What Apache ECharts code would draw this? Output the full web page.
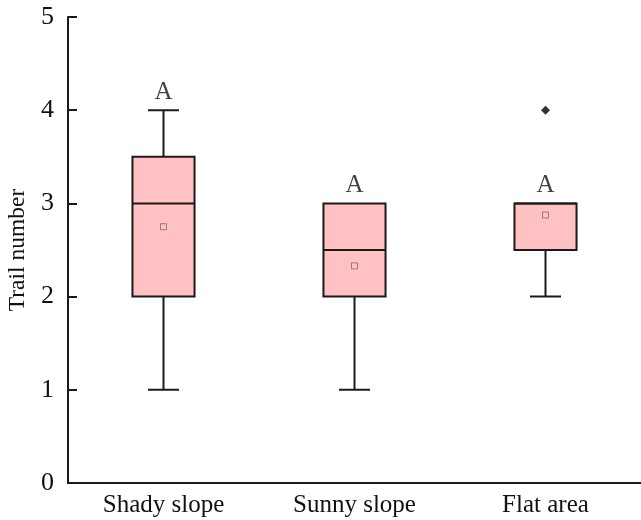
<!DOCTYPE html>
<html>
<head>
<meta charset="utf-8">
<script src="https://cdn.jsdelivr.net/npm/echarts@6/dist/echarts.min.js"></script>
<style>
html,body{margin:0;padding:0;background:#fff;}
#chart{width:641px;height:520px;}
</style>
</head>
<body>
<div id="chart"></div>
<script>
// 数据
var categories = ['Shady slope', 'Sunny slope', 'Flat area'];
// [min, Q1, median, Q3, max]
var boxData = [
	[1, 2, 3, 3.5, 4],
	[1, 2, 2.5, 3, 3],
	[2, 2.5, 3, 3, 3]
];
var meanData = [2.75, 2.33, 2.875];
var outlierData = [[2, 4]];
var groupLetters = ['A', 'A', 'A'];
var yTicks = [0, 1, 2, 3, 4, 5];

var FONT = '"Liberation Serif", "DejaVu Serif", serif';
var LINE = '#1a1a1a';

// 箱体 + 须线
function renderBox(params, api){
	var idx = api.value(0);
	var lo = api.coord([idx, api.value(1)]);
	var q1 = api.coord([idx, api.value(2)]);
	var med = api.coord([idx, api.value(3)]);
	var q3 = api.coord([idx, api.value(4)]);
	var hi = api.coord([idx, api.value(5)]);
	var band = api.size([1, 0])[0];
	var w = band * 0.325;
	var cw = w / 2;
	var x = lo[0];
	var lineStyle = {stroke: LINE, lineWidth: 2};
	var children = [
		{type: 'line', shape: {x1: x, y1: lo[1], x2: x, y2: q1[1]}, style: lineStyle},
		{type: 'line', shape: {x1: x, y1: q3[1], x2: x, y2: hi[1]}, style: lineStyle},
		{type: 'rect', shape: {x: x - w / 2, y: q3[1], width: w, height: q1[1] - q3[1]},
			style: {fill: '#ffc1c1', stroke: LINE, lineWidth: 2}},
		{type: 'line', shape: {x1: x - w / 2, y1: med[1], x2: x + w / 2, y2: med[1]}, style: lineStyle}
	];
	if (hi[1] < q3[1] - 0.5) {
		children.push({type: 'line', shape: {x1: x - cw / 2, y1: hi[1], x2: x + cw / 2, y2: hi[1]}, style: lineStyle});
	}
	if (lo[1] > q1[1] + 0.5) {
		children.push({type: 'line', shape: {x1: x - cw / 2, y1: lo[1], x2: x + cw / 2, y2: lo[1]}, style: lineStyle});
	}
	return {type: 'group', children: children};
}

var boxSeriesData = boxData.map(function(d, i){ return [i].concat(d); });
var meanSeriesData = meanData.map(function(v, i){ return [i, v]; });
var letterData = boxData.map(function(d, i){ return {value: [i, d[4]], label: {formatter: groupLetters[i]}}; });

var option = {
	animation: false,
	backgroundColor: '#fff',
	grid: {left: 68, right: 0, top: 17, bottom: 37, containLabel: false, outerBoundsMode: 'none'},
	xAxis: {
		type: 'category',
		data: categories,
		boundaryGap: true,
		axisLine: {lineStyle: {color: LINE, width: 2}},
		axisTick: {alignWithLabel: true, length: 9, lineStyle: {color: LINE, width: 2}},
		axisLabel: {color: '#111', fontFamily: FONT, fontSize: 25, margin: 10},
		splitLine: {show: false}
	},
	yAxis: {
		type: 'value',
		min: yTicks[0],
		max: yTicks[yTicks.length - 1],
		interval: 1,
		name: 'Trail number',
		nameLocation: 'middle',
		nameGap: 38,
		nameRotate: 90,
		nameTextStyle: {color: '#111', fontFamily: FONT, fontSize: 23.5},
		axisLine: {show: true, lineStyle: {color: LINE, width: 2}},
		axisTick: {show: true, inside: true, length: 9, lineStyle: {color: LINE, width: 2}},
		axisLabel: {color: '#111', fontFamily: FONT, fontSize: 26, margin: 14},
		splitLine: {show: false}
	},
	series: [
		{
			type: 'custom',
			renderItem: renderBox,
			encode: {x: 0, y: [1, 2, 3, 4, 5]},
			data: boxSeriesData,
			z: 2
		},
		{
			type: 'scatter',
			symbol: 'rect',
			symbolSize: 6,
			itemStyle: {color: 'rgba(0,0,0,0)', borderColor: '#7a6a6a', borderWidth: 1},
			data: meanSeriesData,
			z: 3
		},
		{
			type: 'scatter',
			symbol: 'diamond',
			symbolSize: 9,
			itemStyle: {color: '#000'},
			data: outlierData,
			z: 3
		},
		{
			type: 'scatter',
			symbolSize: 0,
			silent: true,
			label: {show: true, position: 'top', distance: 5, color: '#111', fontFamily: FONT, fontSize: 25},
			data: letterData,
			z: 4
		}
	]
};

var chart = echarts.init(document.getElementById('chart'));
chart.setOption(option);
window.onresize = chart.resize;
</script>
</body>
</html>
